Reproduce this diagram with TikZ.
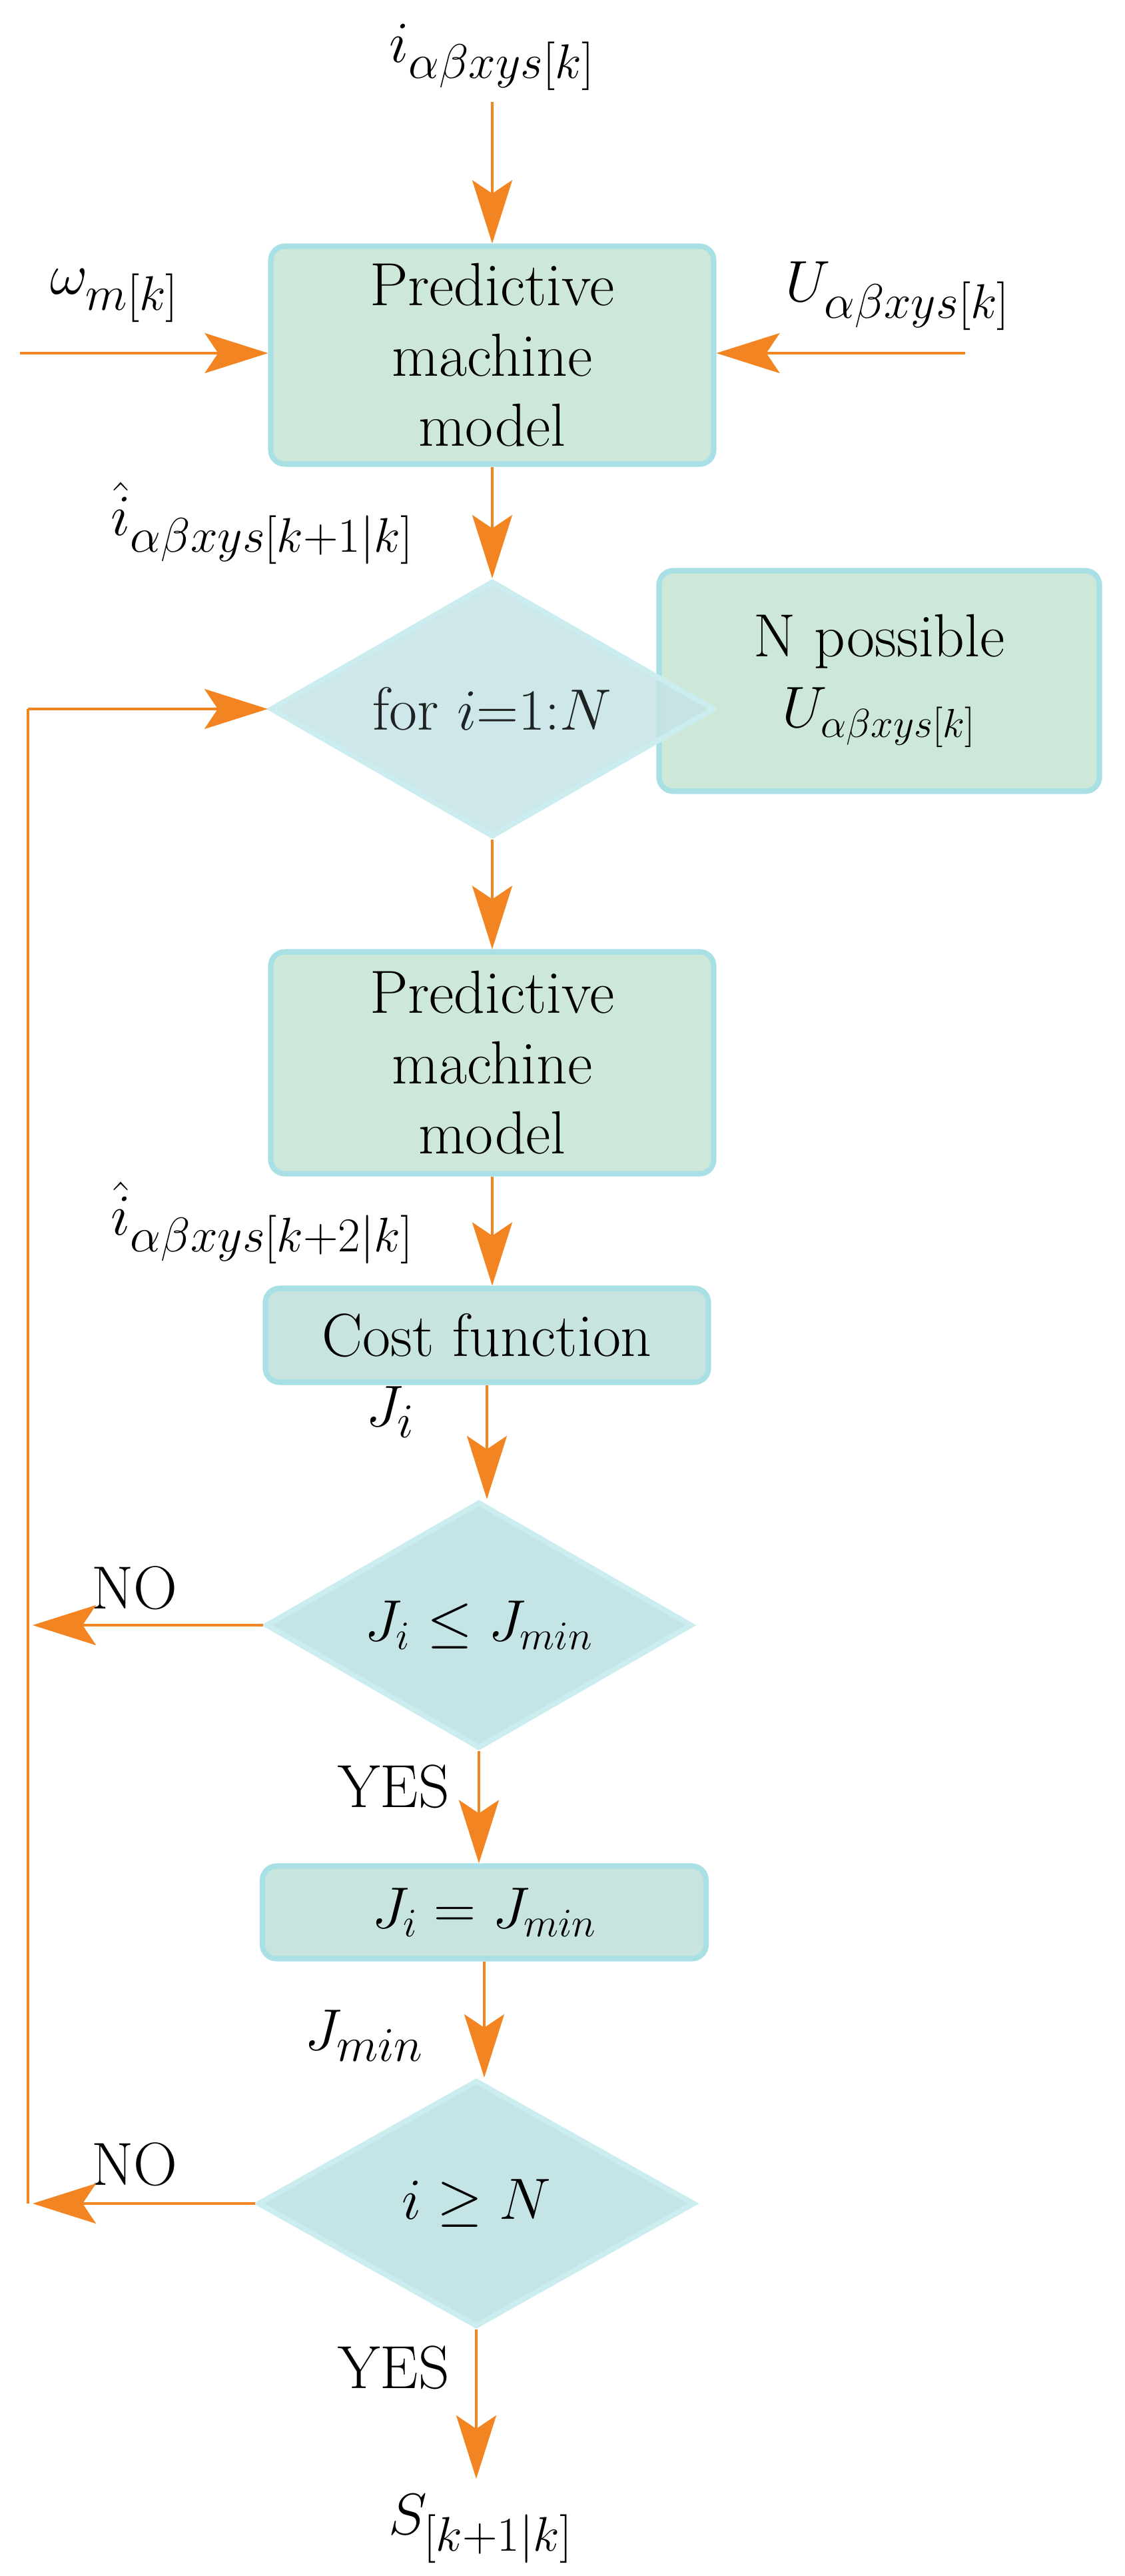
\documentclass[tikz,border=0pt]{standalone}
\usetikzlibrary{shapes.geometric,arrows.meta}
\definecolor{org}{HTML}{F28522}
\definecolor{bfill}{HTML}{CDE8D8}
\definecolor{bdraw}{HTML}{A8E0E6}
\definecolor{dfill}{HTML}{C5E4E6}
\definecolor{ddraw}{HTML}{CCEDF0}
\definecolor{cfill}{HTML}{C8E4DF}
\begin{document}
\begin{tikzpicture}[font=\fontsize{26}{30}\selectfont,
  box/.style={draw=bdraw,fill=bfill,line width=2.3pt,rounded corners=6pt,align=center,inner sep=0pt},
  dia/.style={diamond,draw=ddraw,fill=dfill,line width=2.3pt,inner sep=0pt,aspect=1.73},
  lab/.style={font=\fontsize{31}{36}\selectfont},
  arr/.style={draw=org,line width=1.2pt,-{Stealth[length=0.95cm,width=0.6cm,inset=0.2cm]}},
  ln/.style={draw=org,line width=1.2pt}]
\useasboundingbox (0,0) rectangle (16.88,-38.66);
\node[box,minimum width=6.65cm,minimum height=3.27cm] (b1) at (7.39,-5.33) {Predictive\\machine\\model};
\node[box,minimum width=6.61cm,minimum height=3.31cm] (np) at (13.2,-10.22) {N possible\\$U_{\alpha\beta xys[k]}$};
\node[dia,fill opacity=0.85,minimum width=6.66cm,minimum height=3.84cm,aspect=1.73] (d1) at (7.39,-10.64) {for $i{=}1{:}N$};
\node[box,minimum width=6.65cm,minimum height=3.33cm] (b2) at (7.39,-15.95) {Predictive\\machine\\model};
\node[box,fill=cfill,minimum width=6.65cm,minimum height=1.41cm] (cf) at (7.31,-20.04) {Cost function};
\node[dia,minimum width=6.4cm,minimum height=3.7cm] (d2) at (7.19,-24.39) {$J_i \le J_{min}$};
\node[box,fill=cfill,minimum width=6.66cm,minimum height=1.39cm] (jm) at (7.27,-28.70) {$J_i = J_{min}$};
\node[dia,minimum width=6.56cm,minimum height=3.7cm] (d3) at (7.15,-33.07) {$i \ge N$};

\node[lab] (ti) at (7.39,-0.86) {$i_{\alpha\beta xys[k]}$};
\node[lab] (wl) at (1.72,-4.44) {$\omega_{m[k]}$};
\node[lab] (ul) at (13.48,-4.44) {$U_{\alpha\beta xys[k]}$};
\node[lab] (ih1) at (3.94,-7.85) {$\hat{i}_{\alpha\beta xys[k+1|k]}$};
\node[lab] (ih2) at (3.94,-18.35) {$\hat{i}_{\alpha\beta xys[k+2|k]}$};
\node[lab] (ji) at (5.86,-21.19) {$J_i$};
\node (no1) at (2.02,-23.83) {NO};
\node (y1) at (5.91,-26.81) {YES};
\node[lab] (jml) at (5.47,-30.55) {$J_{min}$};
\node (no2) at (2.02,-32.48) {NO};
\node (y2) at (5.91,-35.53) {YES};
\node[lab] (sl) at (7.22,-37.95) {$S_{[k+1|k]}$};

\coordinate (t0) at (7.39,-1.53);
\coordinate (w0) at (0.3,-5.30);
\coordinate (u0) at (14.49,-5.30);
\coordinate (l1) at (0.42,-24.39);
\coordinate (l2) at (0.42,-33.07);
\coordinate (lt) at (0.42,-10.64);
\coordinate (se) at (7.15,-37.2);

\draw[arr] (t0) -- (b1.north);
\draw[arr] (w0) -- (w0 -| b1.west);
\draw[arr] (u0) -- (u0 -| b1.east);
\draw[arr] (b1) -- (d1.north);
\draw[arr] (d1.south) -- (b2.north);
\draw[arr] (b2.south) -- (b2.south |- cf.north);
\draw[arr] (cf.south) -- (cf.south |- d2.north);
\draw[arr] (d2.south) -- (d2.south |- jm.north);
\draw[arr] (jm.south) -- (jm.south |- d3.north);
\draw[arr] (d3.south) -- (se);
\draw[arr] (d2.west) -- ([xshift=0.07cm]l1);
\draw[arr] (d3.west) -- ([xshift=0.07cm]l2);
\draw[ln] (l2) -- (lt);
\draw[arr] (lt) -- (d1.west);
\end{tikzpicture}
\end{document}
